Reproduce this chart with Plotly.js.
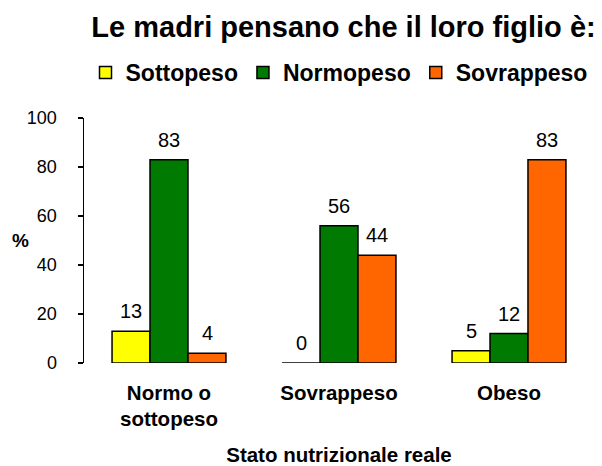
<!DOCTYPE html>
<html>
<head>
<meta charset="utf-8">
<script src="https://cdn.plot.ly/plotly-3.0.1.min.js"></script>
<style>
  html, body { margin: 0; padding: 0; background: #fff; }
  #plot { width: 602px; height: 466px; }
</style>
</head>
<body>
<div id="plot"></div>
<script>
const categories = ["Normo o<br>sottopeso", "Sovrappeso", "Obeso"];
const series_names = ["Sottopeso", "Normopeso", "Sovrappeso"];
const sottopeso = [13, 0, 5];
const normopeso = [83, 56, 12];
const sovrappeso = [4, 44, 83];
const y_ticks = [0, 20, 40, 60, 80, 100];

const colors = ["#FFFF00", "#007A00", "#FF6600"];
const values = [sottopeso, normopeso, sovrappeso];
const font_family = "Liberation Sans, Arial, sans-serif";

const data = values.map((vals, i) => ({
    type: "bar",
    name: series_names[i],
    x: categories,
    y: vals,
    marker: {
        color: colors[i],
        line: { color: "#000", width: 1.5 }
    },
    hoverinfo: "none"
}));

// value labels above the bars, shifted per series
const bar_px = 38;
let annotations = [];
values.forEach((vals, i) => {
    vals.forEach((v, j) => {
        annotations.push({
            x: categories[j],
            y: v,
            xref: "x",
            yref: "y",
            text: String(v),
            showarrow: false,
            xanchor: "center",
            yanchor: "bottom",
            xshift: (i - 1) * bar_px,
            yshift: 7,
            font: { family: font_family, size: 20, color: "#000" }
        });
    });
});

// "%" y title, horizontal
annotations.push({
    x: (20 - 84) / 510,
    y: (363 - 240) / 245,
    xref: "paper",
    yref: "paper",
    xanchor: "center",
    yanchor: "middle",
    text: "<b>%</b>",
    showarrow: false,
    font: { family: font_family, size: 19, color: "#000" }
});

let layout = {
    width: 602,
    height: 466,
    margin: { l: 84, r: 8, t: 118, b: 103 },
    paper_bgcolor: "#fff",
    plot_bgcolor: "#fff",
    font: { family: font_family, color: "#000", size: 18 },
    title: {
        text: "<b>Le madri pensano che il loro figlio è:</b>",
        font: { family: font_family, size: 29, color: "#000" },
        x: 343.5 / 602,
        xanchor: "center",
        xref: "container",
        y: 1 - 27 / 466,
        yanchor: "middle",
        yref: "container"
    },
    showlegend: true,
    legend: {
        orientation: "h",
        x: 0.5,
        xanchor: "center",
        xref: "paper",
        y: 1 - 51 / 466,
        yanchor: "top",
        yref: "container",
        font: { family: font_family, size: 23, color: "#000", weight: "bold" },
        itemwidth: 30,
        traceorder: "normal"
    },
    barmode: "group",
    bargap: 0.33,
    bargroupgap: 0,
    xaxis: {
        type: "category",
        range: [-0.5, 2.5],
        showline: false,
        ticks: "",
        ticklabelstandoff: 15,
        tickfont: { family: font_family, size: 20.5, color: "#000", weight: "bold" },
        title: {
            text: "<b>Stato nutrizionale reale</b>",
            font: { family: font_family, size: 20.5, color: "#000" },
            standoff: 23
        },
        fixedrange: true
    },
    yaxis: {
        range: [0, 100],
        tickvals: y_ticks,
        showline: true,
        linecolor: "#000",
        linewidth: 1.5,
        ticks: "outside",
        ticklen: 5,
        tickwidth: 1.5,
        tickcolor: "#000",
        ticklabelstandoff: 17,
        showgrid: false,
        zeroline: false,
        tickfont: { family: font_family, size: 18, color: "#000" },
        fixedrange: true
    },
    annotations: annotations
};

let config = { staticPlot: true };

Plotly.newPlot("plot", data, layout, config);
</script>
</body>
</html>
